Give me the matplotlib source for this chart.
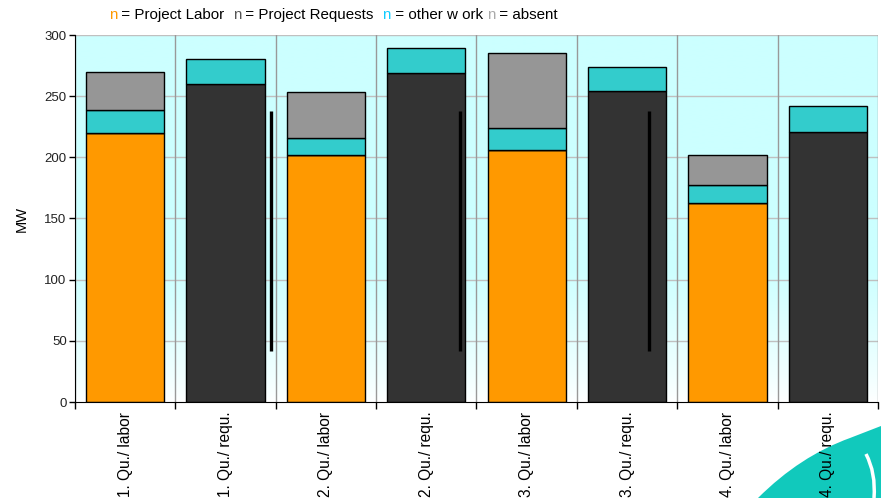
import numpy as np
import matplotlib
matplotlib.use("Agg")
import matplotlib.pyplot as plt
from matplotlib.path import Path
from matplotlib.patches import PathPatch

plt.rcParams['font.family'] = ['Liberation Sans', 'DejaVu Sans']

categories = ["1. Qu./ labor", "1. Qu./ requ.", "2. Qu./ labor", "2. Qu./ requ.",
              "3. Qu./ labor", "3. Qu./ requ.", "4. Qu./ labor", "4. Qu./ requ."]
project_labor = [220, 0, 202, 0, 206, 0, 163, 0]
project_requests = [0, 260, 0, 269, 0, 254, 0, 221]
other_work = [19, 20, 14, 20, 18, 20, 14, 21]
absent = [31, 0, 37, 0, 61, 0, 25, 0]

marker_x = [1.45, 3.335, 5.22]
marker_low = [42, 42, 42]
marker_high = [238, 238, 238]

c_labor = "#FF9900"
c_req = "#333333"
c_other = "#33CCCC"
c_absent = "#969696"

fig = plt.figure(figsize=(8.81, 4.98), dpi=100)
ax = fig.add_axes([75 / 881, 96 / 498, 803 / 881, 367 / 498])

n = len(categories)
x = np.arange(n)
ax.set_xlim(-0.5, n - 0.5)
ax.set_ylim(0, 300)

# background: light cyan fading to white towards the baseline
rows = 300
grad = np.ones((rows, 1, 3))
cyan = np.array([0xCC, 0xFF, 0xFF]) / 255.0
white = np.array([1.0, 1.0, 1.0])
for r in range(rows):
    t = min(r / 110.0, 1.0) ** 0.8
    grad[r, 0] = white * (1 - t) + cyan * t
ax.imshow(grad, extent=[-0.5, n - 0.5, 0, 300], origin="lower", aspect="auto",
          interpolation="bilinear", zorder=0)

# grid
for yv in range(50, 301, 50):
    ax.axhline(yv, color="#C0C0C0", lw=1.0, zorder=1)
for xv in np.arange(-0.5, n, 1.0):
    ax.axvline(xv, color="#999999", lw=1.0, zorder=1)

w = 0.78
lab = np.array(project_labor)
req = np.array(project_requests)
oth = np.array(other_work)
ab = np.array(absent)
kw = dict(width=w, edgecolor="black", linewidth=1.0, zorder=2)
ax.bar(x, lab, color=c_labor, **kw)
ax.bar(x, req, bottom=lab, color=c_req, **kw)
ax.bar(x, oth, bottom=lab + req, color=c_other, **kw)
mask = ab > 0
ax.bar(x[mask], ab[mask], bottom=(lab + req + oth)[mask], color=c_absent, **kw)

ax.vlines(marker_x, marker_low, marker_high, color="black", lw=2.4, zorder=3)

for s in ["top", "right"]:
    ax.spines[s].set_visible(False)
ax.spines["left"].set_zorder(4)
ax.spines["bottom"].set_zorder(4)

ax.set_yticks(range(0, 301, 50))
ax.tick_params(axis="y", labelsize=9.5, length=4, width=1, pad=2, labelcolor="#222222")
ax.set_xticks(np.arange(-0.5, n, 1.0), minor=False)
ax.set_xticklabels([])
ax.tick_params(axis="x", length=5, width=1)
ax.set_xticks(x, minor=True)
ax.set_xticklabels(categories, minor=True, rotation=90, fontsize=11.2, va="top")
ax.tick_params(axis="x", which="minor", length=0, pad=7)
ax.set_ylabel("MW", fontsize=10.5, labelpad=11)

# decorative swoosh in the bottom-right corner
verts = [(758 / 881, 0.0), (800 / 881, 42 / 498), (850 / 881, 60 / 498), (881 / 881, 72 / 498),
         (1.0, 0.0), (758 / 881, 0.0)]
codes = [Path.MOVETO, Path.CURVE3, Path.CURVE3, Path.LINETO, Path.LINETO, Path.CLOSEPOLY]
sw = PathPatch(Path(verts, codes), transform=fig.transFigure, facecolor="#11C9BC",
               edgecolor="none", zorder=-2)
fig.patches.append(sw)
arc = [(866 / 881, 44 / 498), (876 / 881, 25 / 498), (874 / 881, 0.0)]
arc_p = PathPatch(Path(arc, [Path.MOVETO, Path.CURVE3, Path.CURVE3]), transform=fig.transFigure,
                  facecolor="none", edgecolor="white", lw=2.5, zorder=-1)
fig.patches.append(arc_p)

# legend line built from coloured markers and text
legend_parts = [("n", "#FF9900"), (" = Project Labor  ", "black"),
                ("n", "#555555"), (" = Project Requests  ", "black"),
                ("n", "#11CCFF"), (" = other w ork ", "black"),
                ("n", "#AAAAAA"), (" = absent", "black")]
fig.canvas.draw()
renderer = fig.canvas.get_renderer()
xpos = 109
for txt, col in legend_parts:
    t = fig.text(xpos / 881, 1 - 15 / 498, txt, color=col, fontsize=10.9, va="center", ha="left")
    bb = t.get_window_extent(renderer=renderer)
    xpos += bb.width

fig.savefig("out.png", dpi=100)
